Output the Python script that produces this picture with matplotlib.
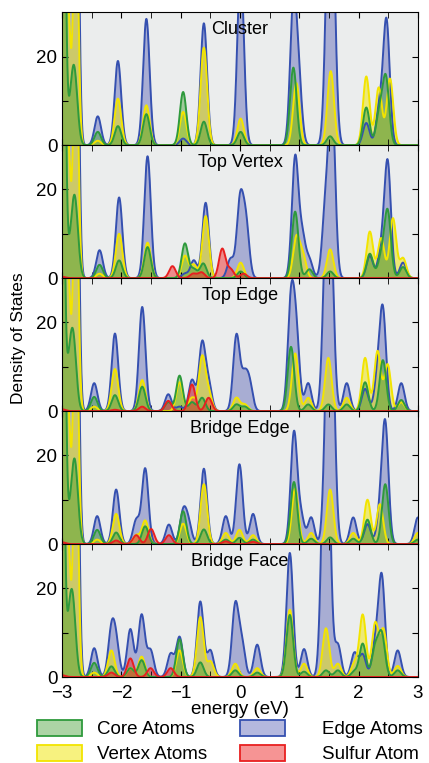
import numpy as np
import matplotlib
matplotlib.use("Agg")
from matplotlib import pyplot as plt
from matplotlib.patches import Patch
from matplotlib.colors import to_rgba

plt.rcParams['font.family'] = ['Liberation Sans', 'DejaVu Sans']

# peaks: (energy eV, height[, width])
panel_names = ["Cluster", "Top Vertex", "Top Edge", "Bridge Edge", "Bridge Face"]

cluster_edge = [(-3.0, 80, .04), (-2.92, 80, .04), (-2.84, 80, .04), (-2.76, 80, .04), (-2.40, 6.5), (-2.06, 19),
                (-1.58, 28.5), (-0.96, 1.5), (-0.61, 27.5), (0.01, 40), (0.90, 31), (0.99, 13), (1.49, 40),
                (1.56, 40), (2.13, 5), (2.35, 8), (2.47, 28)]
cluster_vertex = [(-3.0, 60, .04), (-2.9, 30, .04), (-2.77, 60, .04), (-2.40, 1), (-2.06, 10.5), (-1.58, 9),
                  (-0.96, 7.5), (-0.61, 22), (0.01, 6), (0.95, 14), (1.53, 16.7), (2.13, 15.5), (2.34, 13),
                  (2.53, 15)]
cluster_core = [(-2.98, 80, .035), (-2.89, 4), (-2.80, 17), (-2.40, 3), (-2.06, 4.3), (-1.58, 7), (-0.96, 12),
                (-0.61, 5.3), (0.01, 3), (0.90, 17.5), (1.52, 2), (2.13, 8.5), (2.35, 7), (2.46, 15)]
cluster_sulfur = []

vertex_edge = [(-3.0, 80, .04), (-2.92, 80, .04), (-2.84, 80, .04), (-2.76, 80, .04), (-2.37, 6.3), (-2.04, 18.2),
               (-1.56, 27.5), (-0.93, 1), (-0.78, 4), (-0.58, 17), (-0.16, 4.3), (0.00, 17), (0.10, 12),
               (0.93, 27), (1.05, 9), (1.17, 4), (1.44, 15), (1.55, 40), (2.19, 5), (2.38, 6), (2.49, 26),
               (2.75, 3.5)]
vertex_vertex = [(-3.0, 60, .04), (-2.9, 30, .04), (-2.77, 60, .04), (-2.37, 1), (-2.04, 10), (-1.56, 8),
                 (-0.93, 5), (-0.78, 3), (-0.58, 14), (0.01, 3.5), (0.95, 9), (1.06, 5), (1.52, 6.5),
                 (2.19, 10.5), (2.38, 9), (2.58, 13.5), (2.75, 4.5)]
vertex_core = [(-2.98, 80, .035), (-2.89, 4), (-2.79, 18), (-2.37, 3), (-2.04, 4), (-1.56, 7), (-0.93, 7.8),
               (-0.78, 2), (-0.62, 3.3), (0.01, 1.5), (0.93, 15), (1.17, 2), (1.52, 1.5), (2.19, 5.5),
               (2.38, 4.5), (2.49, 15), (2.75, 2.5)]
vertex_sulfur = [(-3.0, 0.3), (-1.14, 2.7), (-0.79, 1), (-0.65, 1.3), (-0.30, 6.6), (-0.16, 2), (0.06, 1)]

topedge_edge = [(-3.0, 80, .04), (-2.92, 80, .04), (-2.84, 80, .04), (-2.76, 80, .04), (-2.46, 6.3),
                (-2.11, 17.5), (-1.65, 23.5), (-1.21, 3.8), (-1.02, 1), (-0.81, 7), (-0.64, 15), (-0.53, 6),
                (-0.06, 17), (0.07, 7), (0.16, 6), (0.86, 24), (0.95, 16), (1.15, 6.3), (1.45, 35), (1.53, 35),
                (1.80, 6.3), (2.11, 5), (2.32, 7), (2.41, 22), (2.72, 6.3)]
topedge_vertex = [(-3.0, 60, .04), (-2.9, 30, .04), (-2.77, 60, .04), (-2.46, 1), (-2.11, 9.5), (-1.65, 7),
                  (-1.02, 6.5), (-0.81, 3), (-0.64, 12), (-0.53, 4), (-0.06, 3), (0.08, 1.5), (0.93, 13),
                  (1.15, 3), (1.49, 12), (1.80, 3), (2.11, 12), (2.32, 13.5), (2.49, 10.5), (2.72, 2)]
topedge_core = [(-3.0, 80, .035), (-2.91, 6), (-2.82, 17), (-2.46, 3.2), (-2.11, 3.6), (-1.65, 5.5), (-1.21, 2),
                (-1.02, 8), (-0.81, 2), (-0.64, 3), (-0.06, 1.5), (0.08, 1), (0.86, 14.5), (1.15, 1.5),
                (1.49, 1.5), (1.80, 1.5), (2.11, 6.5), (2.41, 11.5), (2.72, 2.5)]
topedge_sulfur = [(-3.0, 0.4), (-2.11, 0.3), (-1.65, 1), (-1.21, 2.3), (-0.81, 6), (-0.53, 3)]

bridge_edge = [(-3.0, 80, .04), (-2.92, 80, .04), (-2.84, 80, .04), (-2.76, 80, .04), (-2.41, 6.3),
               (-2.09, 12.3), (-1.75, 5.4), (-1.60, 17), (-1.20, 4.4), (-0.96, 7), (-0.87, 4.5), (-0.61, 17),
               (-0.24, 6.3), (-0.01, 18), (0.22, 6.8), (0.91, 25), (1.03, 6), (1.20, 6), (1.48, 40), (1.55, 40),
               (1.91, 6), (2.15, 4.5), (2.36, 6), (2.45, 26.5), (3.0, 6)]
bridge_vertex = [(-3.0, 60, .04), (-2.9, 30, .04), (-2.77, 60, .04), (-2.41, 1), (-2.09, 6.8), (-1.75, 2),
                 (-1.60, 5.3), (-0.96, 4.6), (-0.61, 13.5), (-0.24, 2.5), (-0.01, 3.2), (0.22, 2), (0.93, 12.5),
                 (1.20, 2.5), (1.52, 12.3), (1.91, 2.5), (2.15, 10), (2.36, 9), (3.0, 2.5)]
bridge_core = [(-2.98, 80, .035), (-2.89, 4), (-2.79, 18.5), (-2.41, 3.2), (-2.09, 2.6), (-1.60, 4), (-0.96, 7.4),
               (-0.61, 3.3), (-0.24, 1), (-0.01, 1.4), (0.22, 1), (0.91, 14), (1.20, 1.2), (1.52, 1.5),
               (1.91, 1.2), (2.15, 5.5), (2.45, 13.5), (3.0, 1)]
bridge_sulfur = [(-3.0, 0.4), (-2.09, 0.8), (-1.75, 2), (-1.50, 3.4), (-1.20, 2), (-0.24, 0.6), (0.22, 0.5)]

face_edge = [(-3.0, 80, .04), (-2.92, 80, .04), (-2.84, 80, .04), (-2.76, 80, .04), (-2.46, 6.5), (-2.17, 10),
             (-2.09, 7), (-1.85, 10.8), (-1.66, 14), (-1.51, 6), (-1.17, 5.2), (-1.02, 9), (-0.67, 17),
             (-0.50, 6), (-0.08, 16), (0.03, 7.5), (0.29, 7.3), (0.84, 28), (1.08, 6.3), (1.42, 40), (1.48, 40),
             (1.65, 7.3), (1.93, 5.4), (2.07, 5), (2.28, 7), (2.39, 22.5), (2.66, 6)]
face_vertex = [(-3.0, 60, .04), (-2.9, 30, .04), (-2.77, 60, .04), (-2.46, 1), (-2.17, 6), (-1.85, 2),
               (-1.66, 4.6), (-1.02, 6), (-0.67, 13.5), (-0.50, 3.5), (-0.08, 3), (0.29, 2), (0.84, 15.2),
               (1.08, 3), (1.45, 11), (1.65, 3), (1.93, 3), (2.07, 14), (2.28, 12), (2.42, 10.5), (2.66, 2.5)]
face_core = [(-3.0, 80, .035), (-2.91, 6), (-2.83, 17.5), (-2.46, 3.2), (-2.17, 2.4), (-1.85, 2), (-1.66, 3.8),
             (-1.02, 8.5), (-0.67, 3.3), (-0.08, 1.5), (0.29, 1), (0.84, 14), (1.08, 1.2), (1.45, 1.5),
             (1.65, 1.5), (1.93, 1.2), (2.07, 7.5), (2.28, 6.5), (2.39, 9.5), (2.66, 1.5)]
face_sulfur = [(-3.0, 0.4), (-2.17, 1), (-1.85, 4.2), (-1.51, 2), (-1.17, 2)]

panels = [
    (cluster_edge, cluster_vertex, cluster_core, cluster_sulfur),
    (vertex_edge, vertex_vertex, vertex_core, vertex_sulfur),
    (topedge_edge, topedge_vertex, topedge_core, topedge_sulfur),
    (bridge_edge, bridge_vertex, bridge_core, bridge_sulfur),
    (face_edge, face_vertex, face_core, face_sulfur),
]

series_labels = ["Edge Atoms", "Vertex Atoms", "Core Atoms", "Sulfur Atom"]
line_colors = ["#3550b0", "#f2e400", "#2e9a3c", "#e82020"]
fill_alpha = [0.38, 0.5, 0.42, 0.5]
fill_colors = ["#3c46aa", "#f0e600", "#3a9a2a", "#ee2a2a"]

SMEAR = 0.055
FS = 13.5
energy = np.linspace(-3.2, 3.2, 1600)


def broaden(peaks):
    dos = np.zeros_like(energy)
    for p in peaks:
        w = p[2] if len(p) > 2 else SMEAR
        dos += p[1] * np.exp(-0.5 * ((energy - p[0]) / w) ** 2)
    return dos


def draw_panel(ax, name, data, with_sulfur):
    ax.set_facecolor("#ebeded")
    for i, peaks in enumerate(data):
        if i == 3 and not with_sulfur:
            continue
        dos = broaden(peaks)
        ax.fill_between(energy, 0, dos, color=fill_colors[i], alpha=fill_alpha[i], lw=0)
        ax.plot(energy, dos, color=line_colors[i], lw=1.4)
    ax.set_xlim(-3, 3)
    ax.set_ylim(0, 30)
    ax.set_yticks([0, 10, 20])
    ax.set_yticklabels(["0", "", "20"])
    ax.set_xticks(np.arange(-3, 3.01, 1))
    ax.set_xticks(np.arange(-2.5, 3, 1), minor=True)
    ax.tick_params(which="both", direction="in", top=True, right=True, length=4, labelsize=FS)
    ax.tick_params(axis="x", pad=6)
    ax.text(0.5, 0.872, name, transform=ax.transAxes, ha="center", va="center", fontsize=13)


def main():
    fig, axes = plt.subplots(5, 1, figsize=(4.29, 7.63), dpi=100, sharex=True)
    fig.subplots_adjust(left=0.145, right=0.974, top=0.984, bottom=0.1127, hspace=0)

    for k, ax in enumerate(axes):
        draw_panel(ax, panel_names[k], panels[k], k > 0)
        if k < 4:
            ax.tick_params(labelbottom=False)

    axes[-1].set_xlabel("energy (eV)", fontsize=FS, labelpad=-1)
    fig.text(0.042, 0.557, "Density of States", rotation=90, ha="center", va="center", fontsize=12.5)

    handles = [Patch(facecolor=to_rgba(fill_colors[i], fill_alpha[i]), edgecolor=line_colors[i], lw=1.3)
               for i in range(4)]
    opts = dict(loc="upper left", frameon=False, fontsize=FS, handlelength=2.4, handleheight=1.0,
                labelspacing=0.33, borderpad=0, borderaxespad=0)
    fig.legend([handles[2], handles[1]], [series_labels[2], series_labels[1]],
               bbox_to_anchor=(37 / 429, 0.057), handletextpad=0.8, **opts)
    fig.legend([handles[0], handles[3]], [series_labels[0], series_labels[3]],
               bbox_to_anchor=(240 / 429, 0.057), handletextpad=2.0, **opts)

    fig.savefig("out.png", dpi=100)


if __name__ == "__main__":
    main()
